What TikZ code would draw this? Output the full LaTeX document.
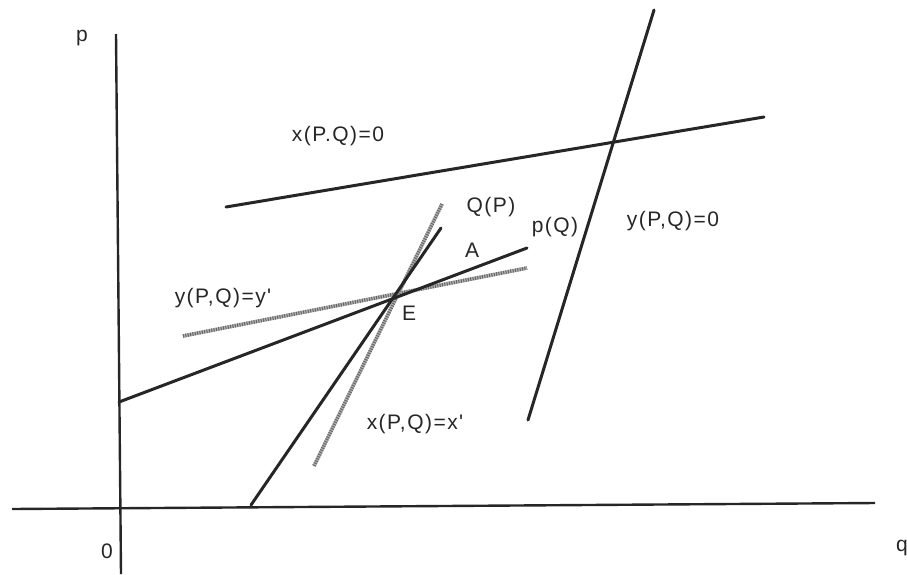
\documentclass[tikz,border=0pt]{standalone}
\usepackage{fontspec}
\newfontfamily\labfont{Liberation Sans}[LetterSpace=7]
\tikzset{
  curve/.style={line width=3pt, black!85, line cap=round},
  axis/.style={line width=2.4pt, black!85},
  greyline/.style={line width=3.6pt, black!30},
  greyhatch/.style={line width=3.6pt, black!60, dash pattern=on 1pt off 1.4pt},
  lbl/.style={inner sep=0pt, font=\labfont\fontsize{21}{24}\selectfont, text=black!85}
}
\begin{document}
\begin{tikzpicture}[x=1pt,y=-1pt]
\useasboundingbox (0,0) rectangle (907,574);
% axes
\coordinate (pTop) at (116,34);
\coordinate (pBot) at (121,574);
\coordinate (qL) at (12,509);
\coordinate (qR) at (875,503);
\draw[axis] (pTop) -- (pBot);
\draw[axis] (qL) -- (qR);
% grey lines
\coordinate (yyL) at (183,336);
\coordinate (yyR) at (527,268);
\coordinate (xxT) at (442,204);
\coordinate (xxB) at (314,466);
\draw[greyline] (yyL) -- (yyR);
\draw[greyhatch] (yyL) -- (yyR);
\draw[greyline] (xxT) -- (xxB);
\draw[greyhatch] (xxT) -- (xxB);
% black curves
\coordinate (pqL) at (119,402);
\coordinate (pqR) at (527,248);
\coordinate (QPB) at (251,505);
\coordinate (QPT) at (441,228);
\coordinate (x0L) at (226,207);
\coordinate (x0R) at (764,117);
\coordinate (y0B) at (528,420);
\coordinate (y0T) at (654,10);
\draw[curve] (pqL) -- (pqR);
\draw[curve] (QPB) -- (QPT);
\draw[curve] (x0L) -- (x0R);
\draw[curve] (y0B) -- (y0T);
% labels
\node[lbl] (lp) at (82,38) {p};
\node[lbl] (l0) at (107,551) {0};
\node[lbl, anchor=west] (lq) at (896,548) {q};
\node[lbl] (lx0) at (338,136) {x(P.Q)=0};
\node[lbl] (lQP) at (491,207) {Q(P)};
\node[lbl] (lpQ) at (555,227) {p(Q)};
\node[lbl] (ly0) at (673,221) {y(P,Q)=0};
\node[lbl] (lA) at (472,250) {A};
\node[lbl] (lE) at (409,313) {E};
\node[lbl] (lyy) at (223,298) {y(P,Q)=y'};
\node[lbl] (lxx) at (415,424) {x(P,Q)=x'};
\end{tikzpicture}
\end{document}
